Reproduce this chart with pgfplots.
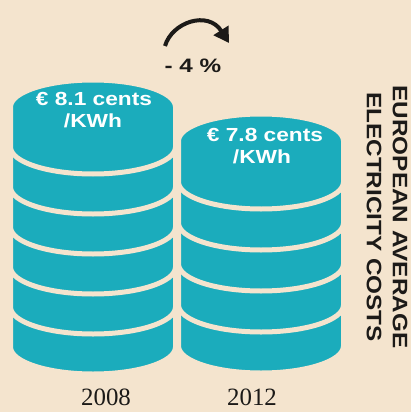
\documentclass[border=0pt]{standalone}
\usepackage{pgfplots}
\pgfplotsset{compat=1.18}
\usepackage{pgfplotstable}
\usepackage{graphicx}
\usepackage{fontspec}
\setmainfont{Liberation Serif}
\newfontfamily\sansf{Liberation Sans}
\usetikzlibrary{arrows.meta}
\definecolor{bg}{RGB}{244,228,206}
\definecolor{coin}{RGB}{27,172,188}
\definecolor{ink}{RGB}{28,26,24}

\def\coinrx{82.5bp}
\def\coinry{27bp}
\pgfdeclareplotmark{coin}{%
  \pgfpathmoveto{\pgfqpoint{-\coinrx}{0pt}}%
  \pgfpathlineto{\pgfqpoint{-\coinrx}{-\pgfplotmarksize}}%
  \pgfpatharc{180}{360}{\coinrx and \coinry}%
  \pgfpathlineto{\pgfqpoint{\coinrx}{0pt}}%
  \pgfpatharc{0}{180}{\coinrx and \coinry}%
  \pgfpathclose
  \pgfusepathqfillstroke}

% coins: x = centre, y = centre of each coin's top face (image pixels, downwards)
\pgfplotstableread{
x y
93 307
93 267
93 227
93 187
93 147
93 107
}\stackA
\pgfplotstableread{
x y
261 305
261 264
261 223
261 182
261 141
}\stackB

\begin{document}
\begin{tikzpicture}[lbl/.style={anchor=base, text=white,
    font=\sansf\bfseries\fontsize{19}{19}\selectfont}]
\fill[bg] (0,0) rectangle (411bp,412bp);
\useasboundingbox (0,0) rectangle (411bp,412bp);
\begin{axis}[at={(0,0)}, anchor=south west, scale only axis,
  width=411bp, height=412bp, xmin=0, xmax=411, ymin=0, ymax=412,
  y dir=reverse, hide axis, clip=false]
\addplot[only marks, mark=coin, mark size=40bp,
  mark options={draw=bg, fill=coin, line width=5bp}] table {\stackA};
\addplot[only marks, mark=coin, mark size=41bp,
  mark options={draw=bg, fill=coin, line width=5bp}] table {\stackB};

\coordinate (a1) at (axis cs:94,106);
\coordinate (a2) at (axis cs:93,128);
\coordinate (b1) at (axis cs:265,142);
\coordinate (b2) at (axis cs:262,164);

\node[anchor=base, text=ink, font=\sansf\bfseries\fontsize{19.5}{19.5}\selectfont] at (axis cs:193,72) {\scalebox{1.25}[1]{- 4 \%}};
\draw[ink, line width=4bp, -{Triangle[length=15bp,width=17bp]}]
  (axis cs:165,46) .. controls (axis cs:172,22) and (axis cs:208,10) .. (axis cs:229,43);

\node[rotate=-90, align=center, text=ink, font=\sansf\bfseries\fontsize{21}{26}\selectfont] at (axis cs:387,217)
  {\scalebox{1.16}[1]{EUROPEAN AVERAGE}\\\scalebox{1.16}[1]{ELECTRICITY COSTS}};

\node[anchor=base, text=ink, font=\fontsize{25}{25}\selectfont] at (axis cs:106,405) {2008};
\node[anchor=base, text=ink, font=\fontsize{25}{25}\selectfont] at (axis cs:252,405) {2012};
\end{axis}
\node[lbl] at (a1) {\scalebox{1.2}[1]{€ 8.1 cents}};
\node[lbl] at (a2) {\scalebox{1.2}[1]{/KWh}};
\node[lbl] at (b1) {\scalebox{1.2}[1]{€ 7.8 cents}};
\node[lbl] at (b2) {\scalebox{1.2}[1]{/KWh}};
\end{tikzpicture}
\end{document}
